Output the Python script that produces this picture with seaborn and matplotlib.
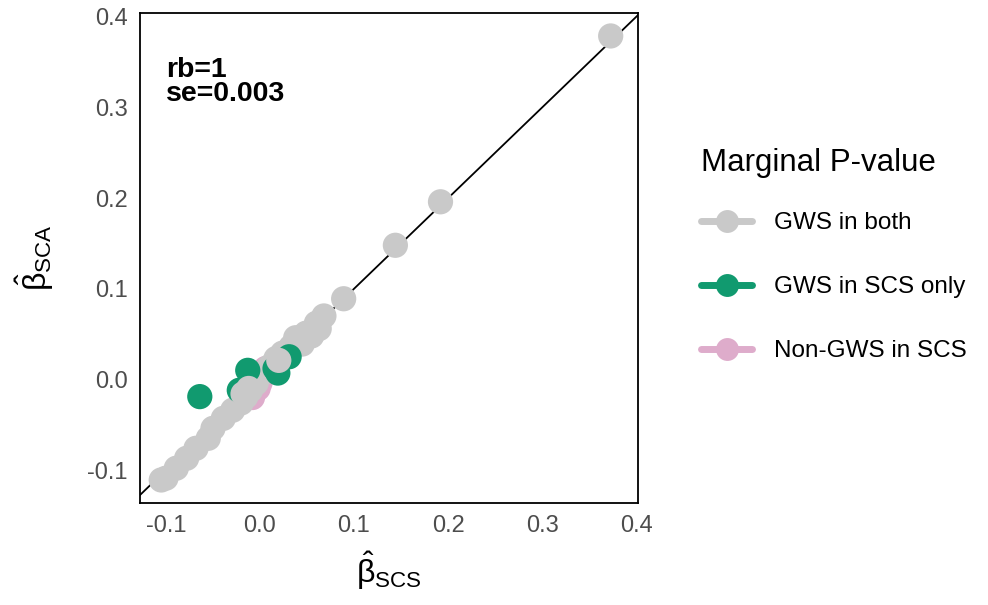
import matplotlib
matplotlib.use("Agg")
import matplotlib.pyplot as plt
from matplotlib.lines import Line2D
import seaborn as sns
import pandas as pd

# ---- data ----
categories = ["GWS in both", "GWS in SCS only", "Non-GWS in SCS"]

pink_scs = [0.006, -0.006, -0.008, 0.000, -0.002]
pink_sca = [0.012, -0.014, -0.020, -0.004, -0.010]

gray_scs = [0.373, 0.192, 0.144, 0.089, 0.068, 0.063, 0.049, 0.041, 0.033, 0.024,
            0.017, 0.010, 0.003, -0.004, -0.010, -0.015, -0.020, -0.029, -0.039,
            -0.050, -0.055, -0.068, -0.078, -0.089, -0.100, -0.105,
            0.045, 0.055, 0.030, 0.038, 0.060]
gray_sca = [0.379, 0.196, 0.148, 0.089, 0.070, 0.056, 0.051, 0.043, 0.036, 0.029,
            0.023, 0.014, 0.007, -0.004, -0.012, -0.019, -0.026, -0.034, -0.043,
            -0.054, -0.065, -0.076, -0.087, -0.098, -0.109, -0.111,
            0.039, 0.048, 0.026, 0.046, 0.062]

green_scs = [-0.064, -0.013, -0.022, 0.031, 0.019, 0.016]
green_sca = [-0.019, 0.010, -0.012, 0.025, 0.007, 0.012]

gray2_scs = [0.020, -0.012, -0.018]
gray2_sca = [0.021, -0.010, -0.016]

palette = {"GWS in both": "#c9c9c9", "GWS in SCS only": "#119a6f", "Non-GWS in SCS": "#deaccb"}

df = pd.DataFrame({
    "scs": pink_scs + gray_scs + green_scs + gray2_scs,
    "sca": pink_sca + gray_sca + green_sca + gray2_sca,
    "group": [categories[2]] * len(pink_scs) + [categories[0]] * len(gray_scs)
             + [categories[1]] * len(green_scs) + [categories[0]] * len(gray2_scs),
})

sns.set_theme(style="white")
plt.rcParams["font.family"] = ["Liberation Sans", "DejaVu Sans"]
plt.rcParams["mathtext.fontset"] = "custom"
plt.rcParams["mathtext.rm"] = "Liberation Sans"
plt.rcParams["mathtext.it"] = "Liberation Sans"

fig = plt.figure(figsize=(9.88, 6.05), dpi=100)
ax = fig.add_axes([0.1417, 0.1686, 0.504, 0.81])

ax.axline((0, 0), slope=1, color="black", lw=1.3, zorder=1)

sns.scatterplot(data=df, x="scs", y="sca", hue="group", palette=palette,
                s=330, linewidth=0, alpha=1, legend=False, ax=ax, zorder=2)

ax.set_xlim(-0.1276, 0.402)
ax.set_ylim(-0.1364, 0.4044)
ticks = [-0.1, 0.0, 0.1, 0.2, 0.3, 0.4]
tick_labels = ["-0.1", "0.0", "0.1", "0.2", "0.3", "0.4"]
ax.set_xticks(ticks)
ax.set_yticks(ticks)
ax.set_xticklabels(tick_labels)
ax.set_yticklabels(tick_labels)
ax.tick_params(axis="both", length=0, labelsize=17, labelcolor="#4d4d4d", pad=9)

for sp in ax.spines.values():
    sp.set_color("black")
    sp.set_linewidth(1.3)

ax.set_xlabel(r"$\hat{\beta}_{\mathrm{SCS}}$", fontsize=23, labelpad=9, color="black")
ax.set_ylabel(r"$\hat{\beta}_{\mathrm{SCA}}$", fontsize=23, labelpad=22, color="black")

ax.text(0.052, 0.91, "rb=1\nse=0.003", transform=ax.transAxes, fontsize=20.5,
        fontweight="bold", va="top", ha="left", linespacing=0.92, color="black")

handles = [Line2D([0], [0], color=palette[c], marker="o", markersize=16.5, lw=5,
                  markeredgewidth=0) for c in categories]
leg = fig.legend(handles, categories, loc="upper left", bbox_to_anchor=(0.700, 0.772),
                 title="Marginal P-value", frameon=False, fontsize=17.5,
                 title_fontsize=22.5, handlelength=2.1, labelspacing=1.72,
                 handletextpad=0.9, borderaxespad=0)
leg._legend_box.align = "left"
leg._legend_box.sep = 25.0
for t in leg.get_texts():
    t.set_color("black")
leg.get_title().set_color("black")

fig.savefig("out.png", dpi=100)
